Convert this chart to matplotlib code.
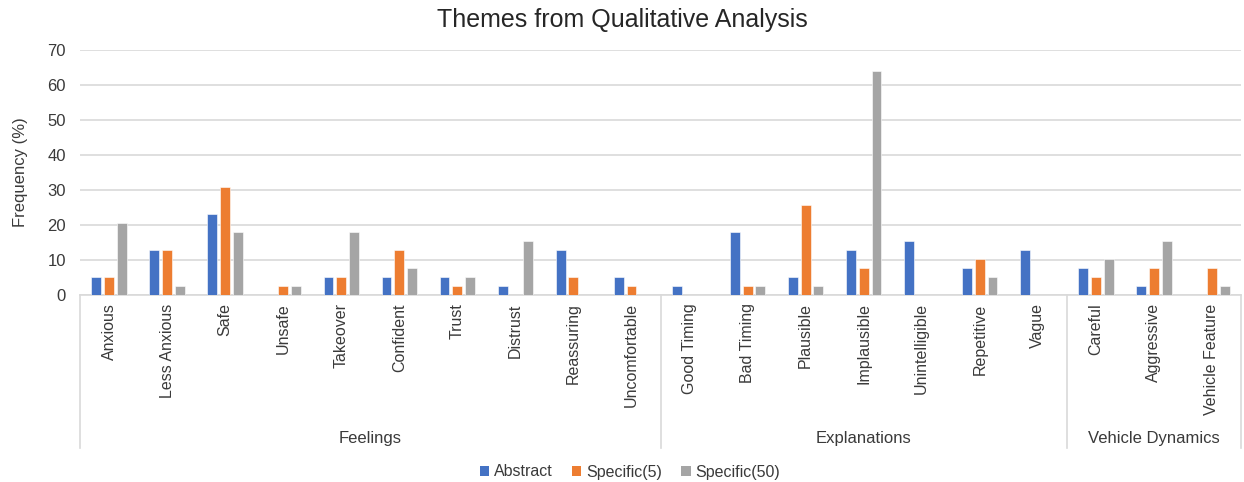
import matplotlib
matplotlib.use('Agg')
import matplotlib.pyplot as plt
from matplotlib.patches import Patch
import numpy as np

plt.rcParams['font.family'] = ['Liberation Sans', 'DejaVu Sans']

# Donnees
categories = ['Anxious', 'Less Anxious', 'Safe', 'Unsafe', 'Takeover', 'Confident',
              'Trust', 'Distrust', 'Reassuring', 'Uncomfortable',
              'Good Timing', 'Bad Timing', 'Plausible', 'Implausible',
              'Unintelligible', 'Repetitive', 'Vague',
              'Careful', 'Aggressive', 'Vehicle Feature']
groups = ['Feelings', 'Explanations', 'Vehicle Dynamics']
group_sizes = [10, 7, 3]

abstract = [5.1, 12.8, 23.1, 0, 5.1, 5.1, 5.1, 2.6, 12.8, 5.1,
            2.6, 17.9, 5.1, 12.8, 15.4, 7.7, 12.8,
            7.7, 2.6, 0]
specific5 = [5.1, 12.8, 30.8, 2.6, 5.1, 12.8, 2.6, 0, 5.1, 2.6,
             0, 2.6, 25.6, 7.7, 0, 10.3, 0,
             5.1, 7.7, 7.7]
specific50 = [20.5, 2.6, 17.9, 2.6, 17.9, 7.7, 5.1, 15.4, 0, 0,
              0, 2.6, 2.6, 64.1, 0, 5.1, 0,
              10.3, 15.4, 2.6]

series = [('Abstract', abstract, '#4472C4'),
          ('Specific(5)', specific5, '#ED7D31'),
          ('Specific(50)', specific50, '#A5A5A5')]

text_col = '#3a3a3a'
line_col = '#d9d9d9'

fig = plt.figure(figsize=(12.44, 4.82), dpi=100)
ax = fig.add_axes([80 / 1244, 187 / 482, 1161 / 1244, 245 / 482])

x = np.arange(len(categories))
step = 0.22
for i, (name, vals, col) in enumerate(series):
    ax.bar(x + (i - 1) * step, vals, width=0.17, color=col,
           edgecolor='white', linewidth=0.4, label=name, zorder=3)

ax.set_xlim(-0.5, len(categories) - 0.5)
ax.set_ylim(0, 70)
ax.set_yticks(range(0, 71, 10))
ax.yaxis.grid(True, color=line_col, linewidth=1.2, zorder=0)
for s in ['top', 'right', 'left']:
    ax.spines[s].set_visible(False)
ax.spines['bottom'].set_color(line_col)
ax.spines['bottom'].set_linewidth(1.2)
ax.tick_params(axis='y', length=0, pad=10, labelsize=12, labelcolor=text_col)
ax.tick_params(axis='x', length=0, pad=6, labelsize=11.5, labelcolor=text_col)
ax.set_xticks(x)
ax.set_xticklabels(categories, rotation=90, va='top')

ax.set_ylabel('Frequency (%)', fontsize=12, color=text_col, labelpad=14)

# Separateurs et libelles de groupes
trans = ax.get_xaxis_transform()
bounds = np.concatenate([[0], np.cumsum(group_sizes)]) - 0.5
for b in bounds:
    ax.plot([b, b], [0, -0.624], transform=trans, color=line_col,
            linewidth=1.2, clip_on=False)
for g, lo, hi in zip(groups, bounds[:-1], bounds[1:]):
    ax.text((lo + hi) / 2, -0.584, g, transform=trans, ha='center', va='center',
            fontsize=12, color=text_col)

fig.text(0.5, 1 - 20 / 482, 'Themes from Qualitative Analysis', ha='center',
         va='center', fontsize=18, color='#262626')

handles = [Patch(facecolor=c, label=n) for n, _, c in series]
fig.legend(handles=handles, loc='center', bbox_to_anchor=(630 / 1244, 1 - 472 / 482),
           ncol=3, frameon=False, fontsize=11.5, handlelength=0.6, handleheight=0.6,
           handletextpad=0.3, columnspacing=1.2, labelcolor=text_col)

fig.savefig('out.png', dpi=100)
